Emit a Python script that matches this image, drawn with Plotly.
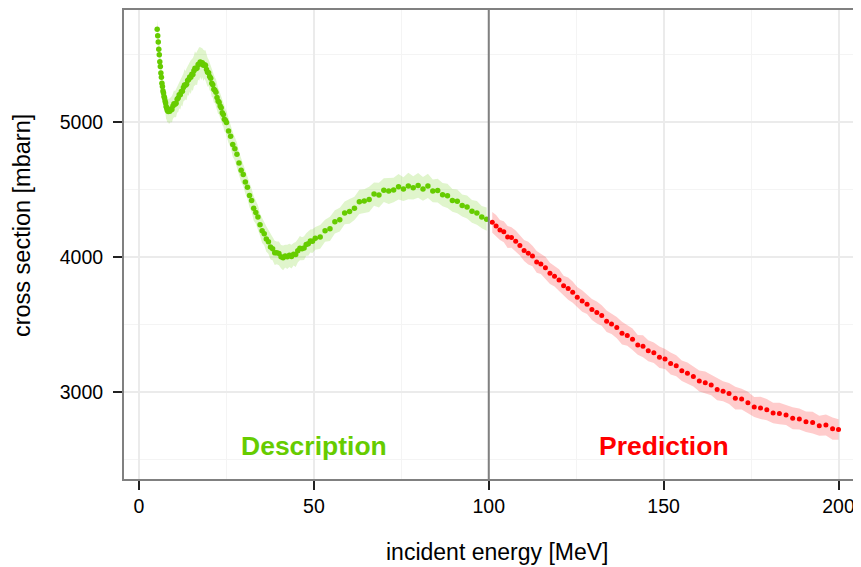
import plotly.graph_objects as go

# ---------------- data ----------------
green_x = [
    5.20, 5.35, 5.50, 5.65, 5.80, 5.95, 6.10, 6.25, 6.40, 6.55, 6.70, 6.85, 7.00, 7.15, 7.30, 7.45,
    7.60, 7.75, 7.90, 8.05, 8.20, 8.35,
    8.50, 8.80, 9.10, 9.40, 9.70, 10.00, 10.30, 10.60, 10.90, 11.20, 11.50, 11.80, 12.10, 12.40,
    12.70, 13.00, 13.30, 13.60, 13.90, 14.20, 14.50, 14.80, 15.10, 15.40, 15.70, 16.00, 16.30,
    16.60, 16.90, 17.20, 17.50, 17.80, 18.10, 18.40, 18.70, 19.00, 19.30, 19.60, 19.90, 20.20,
    20.50, 20.80, 21.10, 21.40, 21.70, 22.00, 22.30, 22.60, 22.90, 23.20, 23.50, 23.80, 24.10,
    24.40, 24.70,
    25.00, 25.60, 26.20, 26.80, 27.40, 28.00, 28.60, 29.20, 29.80, 30.40, 31.00, 31.60, 32.20,
    32.80, 33.40, 34.00, 34.60, 35.20, 35.80, 36.40, 37.00, 37.60, 38.20, 38.80, 39.40, 40.00,
    40.60, 41.20, 41.80, 42.40, 43.00, 43.60, 44.20, 44.80, 45.40, 46.00, 46.60, 47.20, 47.80,
    48.40, 49.00, 49.60,
    50.4, 51.8, 53.2, 54.6, 56.0, 57.4, 58.8, 60.2, 61.6, 63.0, 64.4, 65.8, 67.2, 68.6, 70.0,
    71.4, 72.8, 74.2, 75.6, 77.0, 78.4, 79.8, 81.2, 82.6, 84.0, 85.4, 86.8, 88.2, 89.6, 91.0,
    92.4, 93.8, 95.2, 96.6, 98.0, 99.4,
]
green_y = [
    5690, 5641, 5595, 5542, 5500, 5449, 5414, 5366, 5334, 5289, 5265, 5232, 5216, 5190, 5180, 5158,
    5143, 5117, 5107, 5091, 5088, 5079,
    5090, 5082, 5098, 5095, 5120, 5137, 5133, 5141, 5171, 5180, 5203, 5204, 5228, 5229,
    5257, 5277, 5274, 5282, 5310, 5316, 5336, 5334, 5355, 5354, 5381, 5400, 5396,
    5402, 5428, 5432, 5446, 5434, 5441, 5422, 5427, 5422, 5391, 5371, 5367, 5339,
    5326, 5290, 5278, 5244, 5237, 5222, 5184, 5157, 5149, 5121, 5107, 5071, 5058,
    5022, 5015,
    4998, 4936, 4897, 4836, 4803, 4762, 4698, 4645, 4612, 4558, 4518, 4458, 4421,
    4362, 4332, 4297, 4240, 4195, 4174, 4135, 4114, 4075, 4063, 4032, 4032, 4028,
    4004, 3995, 4008, 4003, 4014, 4005, 4022, 4020, 4047, 4067, 4062, 4068, 4094,
    4100, 4120, 4119,
    4140, 4150, 4196, 4210, 4262, 4278, 4328, 4339, 4362, 4410, 4416, 4428, 4468, 4460, 4497,
    4490, 4498, 4522, 4505, 4527, 4514, 4532, 4506, 4528, 4491, 4494, 4463, 4455, 4421, 4414,
    4383, 4372, 4340, 4328, 4297, 4282,
]
green_err = [
    70, 75, 72, 78, 74, 80, 76, 82, 78, 85, 80, 86, 82, 88, 84, 90, 86, 92, 88, 90, 86, 92,
    88, 95, 90, 98, 94, 100, 96, 104, 98, 106, 100, 110, 102, 112, 104, 115, 106, 118, 108, 120,
    110, 125, 112, 122, 114, 126, 116, 128, 112, 124, 110, 120, 108, 116, 104, 112, 100, 108,
    98, 104, 96, 102, 94, 100, 92, 98, 90, 96, 90, 94, 88, 92, 88, 90, 86,
    86, 90, 84, 92, 86, 88, 82, 90, 85, 88, 84, 90, 86, 92, 84, 88, 82, 90, 86, 94, 88,
    92, 86, 90, 84, 88, 86, 92, 84, 90, 86, 88, 84, 92, 86, 90, 85, 88, 84, 90, 86, 88,
    84, 88, 82, 90, 86, 88, 84, 92, 86, 90, 88, 94, 86, 92, 88, 96, 90, 94, 88, 98, 86,
    92, 88, 90, 84, 88, 86, 90, 84, 88, 82, 86, 84, 88, 82, 86,
]

red_x = [
    101.0, 102.1, 103.2, 104.3, 105.4, 106.5, 107.7, 108.9, 110.1, 111.3,
    112.5, 113.7, 114.9, 116.2, 117.5, 118.8, 120.1, 121.4, 122.7, 124.0,
    125.3, 126.7, 128.1, 129.5, 130.9, 132.3, 133.7, 135.1, 136.6, 138.1,
    139.6, 141.1, 142.6, 144.1, 145.6, 147.2, 148.8, 150.4, 152.0, 153.6,
    155.2, 156.8, 158.5, 160.2, 161.9, 163.6, 165.3, 167.0, 168.7, 170.5,
    172.3, 174.1, 175.9, 177.7, 179.5, 181.3, 183.1, 185.0, 186.9, 188.8,
    190.7, 192.6, 194.5, 196.4, 198.3, 200.0,
]
red_y = [
    4258, 4232, 4201, 4188, 4150, 4146, 4118, 4087, 4050, 4030,
    4008, 3965, 3950, 3921, 3880, 3858, 3830, 3788, 3767, 3741,
    3703, 3675, 3652, 3612, 3590, 3568, 3525, 3505, 3478, 3437,
    3419, 3392, 3350, 3340, 3306, 3292, 3258, 3246, 3212, 3196,
    3158, 3140, 3115, 3082, 3070, 3052, 3020, 3006, 2989, 2955,
    2948, 2922, 2890, 2883, 2870, 2846, 2842, 2830, 2806, 2800,
    2780, 2774, 2750, 2756, 2729, 2722,
]
red_err = [
    76, 80, 74, 78, 82, 76, 80, 74, 78, 84, 76, 80, 74, 82, 78, 76, 80, 74, 82, 78,
    76, 80, 74, 78, 82, 76, 80, 74, 78, 84, 76, 80, 74, 82, 78, 76, 80, 74, 82, 78,
    76, 80, 74, 78, 82, 76, 80, 74, 78, 84, 76, 80, 74, 82, 78, 76, 80, 74, 82, 78,
    76, 80, 74, 78, 82, 76,
]

x_ticks = [0, 50, 100, 150, 200]
y_ticks = [3000, 4000, 5000]
boundary_energy = 100
labels = ["Description", "Prediction"]
label_x = [50, 150]
label_y = 2600

# ---------------- styling ----------------
GREEN = "#66CC00"
RED = "#FF0000"
GREEN_BAND = "rgba(102,204,0,0.2)"
RED_BAND = "rgba(255,0,0,0.2)"
FONT = "Liberation Sans, Arial, Helvetica, sans-serif"

n = min(len(green_x), len(green_y), len(green_err))
gx, gy, ge = green_x[:n], green_y[:n], green_err[:n]
m = min(len(red_x), len(red_y), len(red_err))
rx, ry, re_ = red_x[:m], red_y[:m], red_err[:m]


def band(xs, ys, es):
    up = [y + e for y, e in zip(ys, es)]
    lo = [y - e for y, e in zip(ys, es)]
    return list(xs) + list(xs[::-1]), up + lo[::-1]


fig = go.Figure()

bx, by = band(gx, gy, ge)
fig.add_trace(go.Scatter(x=bx, y=by, fill="toself", fillcolor=GREEN_BAND,
                         line=dict(width=0), mode="lines", hoverinfo="skip", showlegend=False))
bx, by = band(rx, ry, re_)
fig.add_trace(go.Scatter(x=bx, y=by, fill="toself", fillcolor=RED_BAND,
                         line=dict(width=0), mode="lines", hoverinfo="skip", showlegend=False))

fig.add_trace(go.Scatter(x=gx, y=gy, mode="markers",
                         marker=dict(color=GREEN, size=5.5, line=dict(width=0)), showlegend=False))
fig.add_trace(go.Scatter(x=rx, y=ry, mode="markers",
                         marker=dict(color=RED, size=5, line=dict(width=0)), showlegend=False))

fig.add_vline(x=boundary_energy, line=dict(color="#808080", width=2), layer="above")

for txt, lx, col in zip(labels, label_x, [GREEN, RED]):
    fig.add_annotation(x=lx, y=label_y, text=f"<b>{txt}</b>", showarrow=False,
                       font=dict(family=FONT, size=26.5, color=col),
                       xanchor="center", yanchor="middle")

# page has an 8px body margin; figure is 853x559 so plot area lands on the reference frame
W, H = 853, 559
ML, MR, MT, MB = 116, 0, 0, 88
PW, PH = W - ML - MR, H - MT - MB


def px_paper(px, py):
    # px, py in page pixels of reference -> paper coords
    fx, fy = px - 8, py - 8
    return (fx - ML) / PW, (MT + PH - fy) / PH


tx, ty = px_paper(497, 552)
fig.add_annotation(xref="paper", yref="paper", x=tx, y=ty,
                   text="incident energy [MeV]", showarrow=False,
                   font=dict(family=FONT, size=23, color="black"),
                   xanchor="center", yanchor="middle")
tx, ty = px_paper(22, 225)
fig.add_annotation(xref="paper", yref="paper", x=tx, y=ty,
                   text="cross section [mbarn]", showarrow=False, textangle=-90,
                   font=dict(family=FONT, size=23.5, color="black"),
                   xanchor="center", yanchor="middle")

fig.update_layout(
    width=W, height=H, autosize=False,
    margin=dict(l=ML, r=MR, t=MT, b=MB),
    plot_bgcolor="white", paper_bgcolor="white",
    font=dict(family=FONT, color="black"),
    showlegend=False,
)
fig.update_xaxes(
    range=[-4.29, 206.43], tickvals=x_ticks, ticktext=[str(v) for v in x_ticks],
    showgrid=True, gridcolor="#EBEBEB", gridwidth=1.5, zeroline=False,
    showline=True, linecolor="#808080", linewidth=2, mirror=True,
    ticks="outside", ticklen=9, tickwidth=2, tickcolor="#222222",
    tickfont=dict(family=FONT, size=19.5, color="black"),
    minor=dict(dtick=25, tick0=0, showgrid=True, gridcolor="#F4F4F4", gridwidth=1, ticks=""),
)
fig.update_yaxes(
    range=[2356, 5832], tickvals=y_ticks, ticktext=[str(v) for v in y_ticks],
    showgrid=True, gridcolor="#EBEBEB", gridwidth=1.5, zeroline=False,
    showline=True, linecolor="#808080", linewidth=2, mirror=False,
    ticks="outside", ticklen=9, tickwidth=2, tickcolor="#222222",
    tickfont=dict(family=FONT, size=19.5, color="black"),
    ticklabelstandoff=6,
    minor=dict(dtick=500, tick0=0, showgrid=True, gridcolor="#F4F4F4", gridwidth=1, ticks=""),
)

fig.write_html("out.html")
